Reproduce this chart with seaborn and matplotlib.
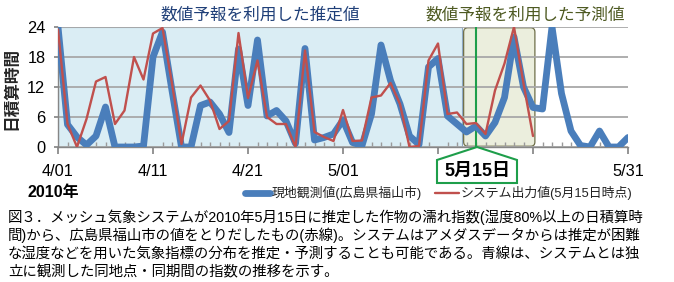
import numpy as np
import pandas as pd
import matplotlib
matplotlib.use("Agg")
import matplotlib.pyplot as plt
import seaborn as sns
from matplotlib.patches import FancyBboxPatch, Polygon

# ---- data (day index 0 = 4/01/2010) ----
observed = [24, 4.5, 2, 0.4, 2.2, 8, 0, 0, 0, 0.2,
            18, 23, 11.3, 0, 0, 8.3, 9, 6.6, 2.9, 19.6,
            8.3, 21.4, 6.2, 7.3, 5.2, 0.7, 19.7, 1.4, 1.9, 2.6,
            5.4, 0.9, 0.3, 6.6, 20.4, 13.3, 8.6, 2.2, 0.5, 16,
            17.7, 6.2, 4.6, 3, 4.2, 2.2, 4.9, 9.9, 22, 12,
            7.9, 7.6, 24, 10.7, 3.2, 0.3, 0, 3.2, 0, 0,
            1.9]
forecast = [23.5, 4.6, 0, 5.6, 13.1, 14, 4.6, 7.3, 18, 13.5,
            22.7, 23.8, 12.7, 0.6, 9.9, 12.3, 9.3, 3.6, 5.2, 22.8,
            9.8, 17.3, 6.0, 4.6, 4.6, 0, 19.3, 3.0, 2, 1.2,
            7.4, 1.2, 1.3, 9.9, 10.3, 12.8, 8.6, 0, 0.2, 17.3,
            20.7, 6.6, 6.9, 4.6, 4.8, 2.6, 11.3, 16.7, 24, 12.7,
            2.2]
tick_days = [0, 10, 20, 30, 40, 50, 60]
tick_labels = ["4/01", "4/11", "4/21", "5/01", "", "", "5/31"]
y_ticks = [0, 6, 12, 18, 24]
analysis_span = (0, 42.5)
forecast_span = (42.7, 50.2)
init_day = 44
obs_label = "現地観測値(広島県福山市)"
fc_label = "システム出力値(5月15日時点)"
title_est = "数値予報を利用した推定値"
title_fc = "数値予報を利用した予測値"
init_label = "5月15日"
year_label = "2010年"
ylabel = "日積算時間"
caption = [
    "図３．メッシュ気象システムが2010年5月15日に推定した作物の濡れ指数(湿度80%以上の日積算時",
    "間)から、広島県福山市の値をとりだしたもの(赤線)。システムはアメダスデータからは推定が困難",
    "な湿度などを用いた気象指標の分布を推定・予測することも可能である。青線は、システムとは独",
    "立に観測した同地点・同期間の指数の推移を示す。",
]

sns.set_theme(style="white")
plt.rcParams['font.family'] = ['Liberation Sans', 'Noto Sans CJK JP']
cjk = ['Noto Sans CJK JP', 'DejaVu Sans']

W, H = 674, 282
fig = plt.figure(figsize=(W / 100, H / 100), dpi=100)
fig.patch.set_facecolor("white")


def fx(px):
    return px / W


def fy(py):
    return 1 - py / H


ax = fig.add_axes([fx(58), fy(147), fx(628) - fx(58), fy(27) - fy(147)])
ax.set_facecolor("white")

df_obs = pd.DataFrame({"day": np.arange(len(observed)), "value": observed})
df_fc = pd.DataFrame({"day": np.arange(len(forecast)), "value": forecast})

sns.lineplot(data=df_obs, x="day", y="value", ax=ax, color="#4A7EBB", lw=4.9,
             label=obs_label, zorder=4, solid_joinstyle="round", solid_capstyle="round")
sns.lineplot(data=df_fc, x="day", y="value", ax=ax, color="#C0504D", lw=1.7,
             label=fc_label, zorder=5, solid_joinstyle="round")

ax.set_xlim(0, 60)
ax.set_ylim(0, 24)

# shaded periods
ax.axvspan(*analysis_span, facecolor="#DAEDF4", edgecolor="#8FA8C4", lw=0.8, zorder=0.1)
fb = FancyBboxPatch((forecast_span[0], 0.15), forecast_span[1] - forecast_span[0], 23.7,
                    boxstyle="round,pad=0,rounding_size=0.45", mutation_aspect=1.9,
                    facecolor="#EBEEDD", edgecolor="#6E6E48", lw=0.9, zorder=0.2)
ax.add_patch(fb)
ax.axvline(init_day, color="#1E9E4A", lw=1.5, zorder=3)

ax.set_axisbelow(True)
ax.yaxis.grid(True, color="#A8A8A8", lw=1.3)
ax.xaxis.grid(False)

ax.set_xticks(tick_days)
ax.set_xticklabels(tick_labels, fontsize=11.8, color="black")
ax.set_xticks(np.arange(0, 61), minor=True)
ax.set_yticks(y_ticks)
ax.set_yticklabels([str(v) for v in y_ticks], fontsize=11.8, color="black")
ax.tick_params(axis="x", which="major", direction="out", length=5, color="#868686",
               pad=7, bottom=True)
ax.tick_params(axis="x", which="minor", direction="in", length=3.5, color="#9A9A9A",
               bottom=True)
ax.tick_params(axis="y", which="major", direction="out", length=3, color="#868686",
               pad=6, left=True)

for s in ["top", "right"]:
    ax.spines[s].set_visible(False)
for s in ["left", "bottom"]:
    ax.spines[s].set_color("#868686")
    ax.spines[s].set_linewidth(1.0)

ax.set_xlabel("")
ax.set_ylabel(ylabel, fontsize=12, fontweight="bold", family=cjk)
ax.yaxis.set_label_coords((20 - 58) / 570, 0.49)

leg = ax.legend(loc="center left", bbox_to_anchor=(fx(245), fy(193)),
                bbox_transform=fig.transFigure, ncol=2, frameon=False,
                fontsize=9.3, handlelength=1.9, handletextpad=0.15,
                columnspacing=1.0, borderaxespad=0, borderpad=0)
for t in leg.get_texts():
    t.set_color("#222222")

# titles
fig.text(fx(260), fy(15), title_est, ha="center", va="center", fontsize=12,
         color="#1F3F78", family=cjk)
fig.text(fx(525), fy(15), title_fc, ha="center", va="center", fontsize=12,
         color="#4E5A22", family=cjk)

# callout for the initial date
pts = [(477, 147), (517, 160), (517, 183), (437, 183), (437, 160)]
poly = Polygon([(fx(x), fy(y)) for x, y in pts], closed=True, transform=fig.transFigure,
               facecolor="white", edgecolor="#1E9E4A", lw=1.5, zorder=10)
fig.add_artist(poly)
fig.text(fx(477), fy(171.5), init_label, ha="center", va="center", fontsize=13,
         fontweight="bold", color="black", zorder=11)

fig.text(fx(53), fy(192), year_label, ha="center", va="center", fontsize=11.5,
         fontweight="bold", color="black")

# caption
for i, line in enumerate(caption):
    fig.text(fx(8), fy(217 + 18.5 * i), line, ha="left", va="center", fontsize=10.4,
             color="black")

fig.savefig("out.png", dpi=100, facecolor="white")
